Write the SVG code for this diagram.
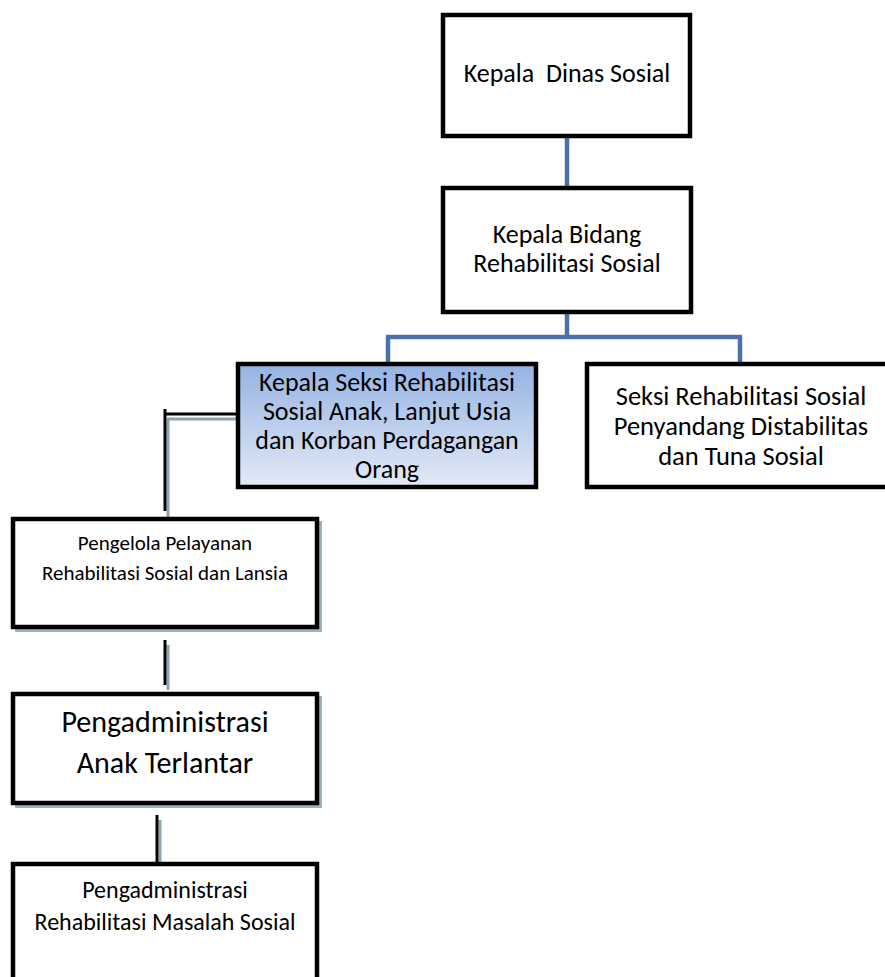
<svg xmlns="http://www.w3.org/2000/svg" width="885" height="977" viewBox="0 0 885 977">
<defs>
<linearGradient id="blueGrad" x1="0" y1="0" x2="0" y2="1">
<stop offset="0" stop-color="#95b3e3"/>
<stop offset="1" stop-color="#e3eaf6"/>
</linearGradient>
<style>
.box{fill:#ffffff;stroke:#000000;stroke-width:4.5}
.shadow{fill:#9ab4bd;stroke:none}
.t{font-family:Carlito,Lato,"Open Sans",sans-serif;fill:#000000;text-anchor:middle}
.blue{fill:none;stroke:#4a72a8;stroke-width:4.5}
.blk{fill:none;stroke:#000000;stroke-width:3}
.gry{fill:none;stroke:#8aa6ad;stroke-width:3}
</style>
</defs>
<rect width="885" height="977" fill="#ffffff"/>
<g id="connectors">
<path class="blue" d="M567,136 V188 M567,312 V337 M386,337 H742 M388,337 V364 M740,337 V364"/>
<path class="gry" d="M167,419 H242 M168,419 V517"/>
<path class="blk" d="M165,414 H238 M165,409 V511"/>
<path class="gry" d="M168,645 V690"/>
<path class="blk" d="M165,640 V685"/>
<path class="gry" d="M160,820 V867"/>
<path class="blk" d="M157,815 V862"/>
</g>
<g id="kepala-dinas">
<rect class="box" x="443" y="15" width="247" height="121"/>
<text class="t" x="567" y="82" font-size="26" xml:space="preserve">Kepala  Dinas Sosial</text>
</g>
<g id="kepala-bidang">
<rect class="box" x="443" y="188" width="248" height="124"/>
<text class="t" x="567" y="243" font-size="26">Kepala Bidang</text>
<text class="t" x="567" y="272" font-size="26">Rehabilitasi Sosial</text>
</g>
<g id="seksi-anak">
<rect x="238" y="364" width="298" height="123" fill="url(#blueGrad)" stroke="#000" stroke-width="4.5"/>
<text class="t" x="387" y="391" font-size="26">Kepala Seksi Rehabilitasi</text>
<text class="t" x="387" y="420" font-size="26">Sosial Anak, Lanjut Usia</text>
<text class="t" x="387" y="449" font-size="26">dan Korban Perdagangan</text>
<text class="t" x="387" y="478" font-size="26">Orang</text>
</g>
<g id="seksi-disabilitas">
<rect class="box" x="587" y="364" width="302" height="123"/>
<text class="t" x="741" y="405" font-size="26.5">Seksi Rehabilitasi Sosial</text>
<text class="t" x="741" y="435" font-size="26.5">Penyandang Distabilitas</text>
<text class="t" x="741" y="465" font-size="26.5">dan Tuna Sosial</text>
</g>
<g id="pengelola">
<rect class="shadow" x="15" y="521" width="307" height="111"/>
<rect class="box" x="13" y="519" width="304" height="108"/>
<text class="t" x="165" y="550" font-size="21">Pengelola Pelayanan</text>
<text class="t" x="165" y="580" font-size="21">Rehabilitasi Sosial dan Lansia</text>
</g>
<g id="anak-terlantar">
<rect class="shadow" x="15" y="696" width="307" height="112"/>
<rect class="box" x="13" y="694" width="304" height="109"/>
<text class="t" x="165" y="732" font-size="30">Pengadministrasi</text>
<text class="t" x="165" y="773" font-size="30">Anak Terlantar</text>
</g>
<g id="masalah-sosial">
<rect class="box" x="13" y="864" width="304" height="125"/>
<text class="t" x="165" y="898" font-size="24">Pengadministrasi</text>
<text class="t" x="165" y="930" font-size="24">Rehabilitasi Masalah Sosial</text>
</g>
</svg>
